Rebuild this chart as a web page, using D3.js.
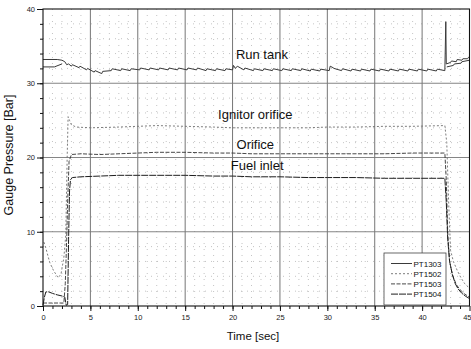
<!DOCTYPE html>
<html>
<head>
<meta charset="utf-8">
<script src="https://cdn.jsdelivr.net/npm/d3@7"></script>
<style>
  body { margin: 0; background: #fff; }
  svg { display: block; font-family: 'Liberation Sans', Arial, sans-serif; }
</style>
</head>
<body>
<script>
// time axis [sec] and gauge pressure [Bar]
const xTicks = [0, 5, 10, 15, 20, 25, 30, 35, 40, 45];
const yTicks = [0, 10, 20, 30, 40];

const runTankT = [0, 1.5, 2.0, 2.3, 2.5, 2.7, 3.0, 3.1, 3.8, 3.9, 4.6, 4.7, 5.4, 5.5, 6.2, 6.3,
  7.2, 7.3, 8.2, 8.3, 9.2, 9.3, 10.2, 10.3, 11.2, 11.3, 12.2, 12.3, 13.2, 13.3, 14.2, 14.3,
  15.2, 15.3, 16.2, 16.3, 17.2, 17.3, 18.2, 18.3, 19.2, 19.3, 20.0, 20.1, 20.3, 20.5, 21.2, 21.3,
  22.2, 22.3, 23.2, 23.3, 24.2, 24.3, 25.2, 25.3, 26.2, 26.3, 27.2, 27.3, 28.2, 28.3, 29.2, 29.3,
  30.2, 30.3, 30.6, 30.7, 31.5, 31.6, 32.5, 32.6, 33.5, 33.6, 34.5, 34.6, 35.5, 35.6, 36.5, 36.6,
  37.5, 37.6, 38.5, 38.6, 39.5, 39.6, 40.5, 40.6, 41.5, 41.6, 42.4, 42.5, 42.55, 43.0, 43.1,
  43.6, 43.7, 44.2, 44.3, 44.8, 44.9, 45];
const runTankP = [33.2, 33.2, 33.1, 32.9, 32.5, 32.6, 32.3, 32.5, 32.1, 32.3, 31.8, 32.0, 31.5, 31.7, 31.3, 31.6,
  31.7, 31.95, 31.7, 31.95, 31.7, 31.95, 31.8, 32.05, 31.8, 32.05, 31.8, 32.05, 31.8, 32.05, 31.8, 32.05,
  31.8, 32.05, 31.8, 32.05, 31.7, 31.95, 31.7, 31.95, 31.7, 31.95, 31.8, 32.4, 32.0, 32.3, 31.8, 32.05,
  31.7, 31.95, 31.7, 31.95, 31.7, 31.95, 31.7, 31.95, 31.7, 31.95, 31.7, 31.95, 31.65, 31.9, 31.65, 31.9,
  31.7, 32.3, 32.1, 32.0, 31.7, 31.95, 31.65, 31.9, 31.65, 31.9, 31.65, 31.9, 31.65, 31.9, 31.65, 31.9,
  31.65, 31.9, 31.65, 31.9, 31.65, 31.9, 31.65, 31.9, 31.65, 31.9, 31.7, 38.3, 32.6, 32.8, 33.0,
  32.9, 33.2, 33.1, 33.3, 33.3, 33.5, 33.5];
// second trace seen near the run tank level before start and after shutdown
const runTankPreT = [0, 1.2, 2.0];
const runTankPreP = [32.2, 32.2, 32.6];
const runTankPostT = [42.6, 43.3, 43.4, 44.1, 44.2, 45];
const runTankPostP = [32.2, 32.4, 32.6, 32.7, 32.9, 33.1];

const ignitorT = [0.1, 0.3, 0.7, 1.1, 1.6, 1.9, 2.2, 2.4, 2.55, 2.65, 2.8, 3.0, 3.5, 5, 8, 10, 12, 15,
  18, 20, 22, 25, 28, 30, 33, 36, 39, 42.4, 42.6, 42.8, 43.0, 43.3, 43.7, 44.1, 44.5, 45];
const ignitorP = [8.6, 7.8, 5.9, 4.8, 3.8, 4.3, 6.5, 9.5, 20, 25.5, 25.0, 24.4, 24.1, 24.0, 24.1, 24.2, 24.3, 24.2,
  24.1, 24.0, 24.0, 24.0, 24.0, 24.1, 24.1, 24.2, 24.2, 24.3, 22, 14, 7.5, 6.0, 4.8, 3.8, 3.0, 2.4];

const orificeT = [0, 2.2, 2.35, 2.5, 2.6, 2.75, 3.0, 4, 6, 8, 10, 12, 15, 18, 20, 22, 25, 28, 30, 33,
  36, 39, 42.4, 42.55, 42.7, 42.9, 43.2, 43.6, 44.0, 44.5, 45];
const orificeP = [0.4, 0.4, 3, 9, 14, 19.5, 20.4, 20.5, 20.4, 20.5, 20.6, 20.7, 20.7, 20.6, 20.6, 20.5, 20.5, 20.5, 20.5, 20.5,
  20.5, 20.6, 20.6, 17, 10, 6, 4.2, 2.9, 2.2, 1.6, 1.2];

const fuelT = [0, 0.15, 0.3, 0.6, 1.0, 1.5, 2.0, 2.3, 2.45, 2.6, 2.7, 2.8, 2.9, 3.1, 4, 6, 8, 10, 12, 15,
  18, 20, 22, 25, 28, 30, 33, 36, 39, 42.4, 42.55, 42.7, 42.9, 43.2, 43.5, 43.8, 44.2, 44.6, 45];
const fuelP = [0.1, 1.2, 1.9, 1.9, 1.7, 1.5, 1.35, 1.2, 0.1, 0.2, 9, 15.5, 17, 17.3, 17.4, 17.5, 17.6, 17.6, 17.6, 17.6,
  17.5, 17.5, 17.4, 17.4, 17.3, 17.3, 17.3, 17.2, 17.2, 17.2, 14, 9, 6, 4.2, 3.0, 2.3, 1.7, 1.3, 1.0];

const seriesNames = ['PT1303', 'PT1502', 'PT1503', 'PT1504'];
const annotations = [
  { text: 'Run tank', t: 23.1, p: 33.3 },
  { text: 'Ignitor orifice', t: 22.4, p: 25.2 },
  { text: 'Orifice', t: 22.4, p: 21.2 },
  { text: 'Fuel inlet', t: 22.6, p: 18.3 }
];

const WIDTH = 471;
const HEIGHT = 349;

const styles = {
  PT1303: { color: '#3a3a3a', dash: null, width: 1.0 },
  PT1502: { color: '#6e6e6e', dash: '2,2', width: 0.9 },
  PT1503: { color: '#333', dash: '4,1.5', width: 0.9 },
  PT1504: { color: '#1e1e1e', dash: '7,1', width: 1.0 }
};

const zip = (ts, ps) => ts.map((t, i) => ({ t: t, p: ps[i] }));
const traces = [
  { name: 'PT1303', data: zip(runTankT, runTankP) },
  { name: 'PT1303', data: zip(runTankPreT, runTankPreP) },
  { name: 'PT1303', data: zip(runTankPostT, runTankPostP) },
  { name: 'PT1502', data: zip(ignitorT, ignitorP) },
  { name: 'PT1503', data: zip(orificeT, orificeP) },
  { name: 'PT1504', data: zip(fuelT, fuelP) }
];

const x = d3.scaleLinear().domain([0, 45]).range([43, 469.5]);
const y = d3.scaleLinear().domain([0, 40]).range([306, 9]);

const svg = d3
  .select('body')
  .append('svg')
  .attr('width', WIDTH)
  .attr('height', HEIGHT);

// minor grid (sparse dots, like the scan)
svg
  .append('g')
  .selectAll('line')
  .data(d3.range(1, 45).filter((d) => d % 5 !== 0))
  .join('line')
  .attr('x1', (d) => x(d))
  .attr('x2', (d) => x(d))
  .attr('y1', y(40))
  .attr('y2', y(0))
  .attr('stroke', '#aaa')
  .attr('stroke-width', 0.7)
  .attr('stroke-dasharray', '1,5');

svg
  .append('g')
  .selectAll('line')
  .data(d3.range(2, 40, 2).filter((d) => d % 10 !== 0))
  .join('line')
  .attr('x1', x(0))
  .attr('x2', x(45))
  .attr('y1', (d) => y(d))
  .attr('y2', (d) => y(d))
  .attr('stroke', '#aaa')
  .attr('stroke-width', 0.7)
  .attr('stroke-dasharray', '1,5');

// major grid
svg
  .append('g')
  .selectAll('line')
  .data(xTicks.slice(1, -1))
  .join('line')
  .attr('x1', (d) => x(d))
  .attr('x2', (d) => x(d))
  .attr('y1', y(40))
  .attr('y2', y(0))
  .attr('stroke', '#666')
  .attr('stroke-width', 0.9);

svg
  .append('g')
  .selectAll('line')
  .data(yTicks.slice(1, -1))
  .join('line')
  .attr('x1', x(0))
  .attr('x2', x(45))
  .attr('y1', (d) => y(d))
  .attr('y2', (d) => y(d))
  .attr('stroke', '#777')
  .attr('stroke-width', 0.9);

// traces
const line = d3
  .line()
  .x((d) => x(d.t))
  .y((d) => y(d.p));

svg
  .append('g')
  .selectAll('path')
  .data(traces)
  .join('path')
  .attr('d', (d) => line(d.data))
  .attr('fill', 'none')
  .attr('stroke', (d) => styles[d.name].color)
  .attr('stroke-width', (d) => styles[d.name].width)
  .attr('stroke-dasharray', (d) => styles[d.name].dash);

// frame
svg
  .append('rect')
  .attr('x', x(0))
  .attr('y', y(40))
  .attr('width', x(45) - x(0))
  .attr('height', y(0) - y(40))
  .attr('fill', 'none')
  .attr('stroke', '#111')
  .attr('stroke-width', 1.1);

// axes
svg
  .append('g')
  .attr('transform', `translate(0, ${y(0)})`)
  .call(d3.axisBottom(x).tickValues(xTicks).tickSize(5).tickPadding(4));

svg
  .append('g')
  .attr('transform', `translate(0, ${y(0)})`)
  .call(d3.axisBottom(x).tickValues(d3.range(1, 45)).tickSize(3).tickFormat(''));

svg
  .append('g')
  .attr('transform', `translate(${x(0)}, 0)`)
  .call(d3.axisLeft(y).tickValues(yTicks).tickSize(6).tickPadding(2));

svg
  .append('g')
  .attr('transform', `translate(${x(0)}, 0)`)
  .call(d3.axisLeft(y).tickValues(d3.range(2, 40, 2)).tickSize(3).tickFormat(''));

svg.selectAll('.domain').remove();
svg.selectAll('.tick line').attr('stroke', '#111');
svg
  .selectAll('.tick text')
  .attr('font-family', "'Liberation Sans', Arial, sans-serif")
  .attr('font-size', 7.5)
  .attr('fill', '#222');

// last x label sits on the window edge; keep it inside
svg
  .selectAll('.tick text')
  .filter((d) => d === 45)
  .attr('text-anchor', 'end')
  .attr('dx', 1.5);

svg
  .append('text')
  .attr('x', 253)
  .attr('y', 340)
  .attr('text-anchor', 'middle')
  .attr('font-size', 11.5)
  .attr('fill', '#111')
  .text('Time [sec]');

svg
  .append('text')
  .attr('transform', 'translate(12.5, 155) rotate(-90)')
  .attr('text-anchor', 'middle')
  .attr('font-size', 12.5)
  .attr('fill', '#111')
  .text('Gauge Pressure [Bar]');

// curve labels
svg
  .append('g')
  .selectAll('text')
  .data(annotations)
  .join('text')
  .attr('x', (d) => x(d.t))
  .attr('y', (d) => y(d.p))
  .attr('text-anchor', 'middle')
  .attr('font-size', 13)
  .attr('fill', '#111')
  .text((d) => d.text);

// legend
const legend = svg.append('g').attr('transform', 'translate(384, 253)');

legend
  .append('rect')
  .attr('width', 62)
  .attr('height', 52)
  .attr('fill', '#fff')
  .attr('stroke', '#444')
  .attr('stroke-width', 0.8);

legend
  .selectAll('.legend-item')
  .data(seriesNames)
  .join('g')
  .attr('class', 'legend-item')
  .attr('transform', (d, i) => `translate(0, ${10.5 + i * 10.2})`)
  .each(function (d) {
    d3.select(this)
      .append('line')
      .attr('x1', 7)
      .attr('x2', 28)
      .attr('stroke', styles[d].color)
      .attr('stroke-width', styles[d].width)
      .attr('stroke-dasharray', styles[d].dash);

    d3.select(this)
      .append('text')
      .attr('x', 29.5)
      .attr('y', 3)
      .attr('font-size', 8)
      .attr('fill', '#111')
      .text(d);
  });
</script>
</body>
</html>
